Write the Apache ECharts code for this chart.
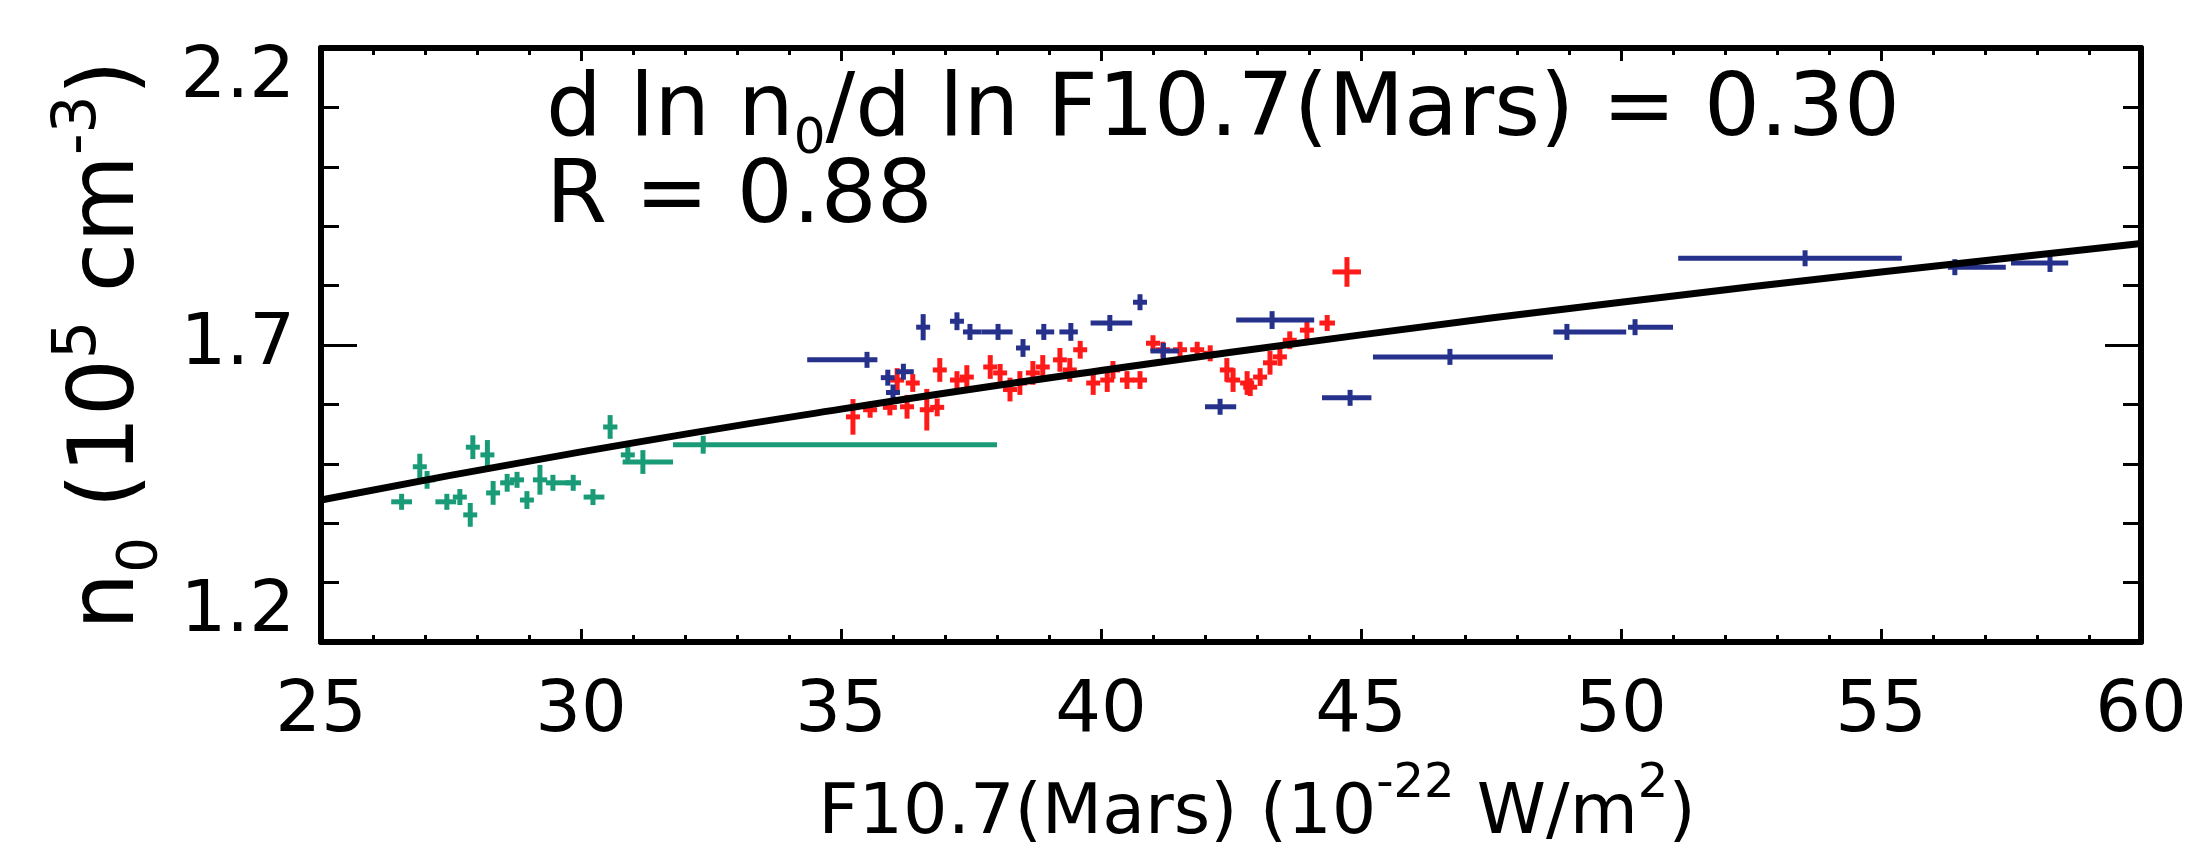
<!DOCTYPE html>
<html>
<head>
<meta charset="utf-8">
<script src="https://cdn.jsdelivr.net/npm/echarts@6/dist/echarts.min.js"></script>
<style>
  html, body { margin: 0; padding: 0; background: #fff; }
  #chart { width: 2186px; height: 857px; }
</style>
</head>
<body>
<div id="chart"></div>
<script>
// each point: [F10.7, n0, xLow, xHigh, yHalfErr]
const greenPoints = [
  [26.55, 1.436, 26.35, 26.75, 0.012],
  [26.9, 1.495, 26.85, 26.95, 0.022],
  [27.04, 1.473, 26.9, 27.2, 0.015],
  [27.42, 1.436, 27.2, 27.6, 0.01],
  [27.67, 1.444, 27.55, 27.8, 0.012],
  [27.87, 1.414, 27.8, 27.95, 0.02],
  [27.92, 1.528, 27.85, 28.0, 0.02],
  [28.2, 1.515, 28.1, 28.3, 0.025],
  [28.31, 1.451, 28.2, 28.4, 0.02],
  [28.58, 1.468, 28.45, 28.7, 0.015],
  [28.77, 1.473, 28.65, 28.9, 0.012],
  [28.96, 1.439, 28.85, 29.05, 0.015],
  [29.21, 1.473, 29.1, 29.35, 0.025],
  [29.46, 1.468, 29.35, 29.8, 0.01],
  [29.85, 1.468, 29.7, 30.0, 0.01],
  [30.23, 1.444, 30.05, 30.45, 0.01],
  [30.56, 1.562, 30.45, 30.7, 0.02],
  [30.9, 1.515, 30.8, 31.0, 0.01],
  [31.19, 1.503, 30.8, 31.77, 0.02],
  [32.35, 1.532, 31.77, 38.0, 0.015]
];
const redPoints = [
  [35.23, 1.579, 35.15, 35.3, 0.03],
  [35.56, 1.591, 35.45, 35.65, 0.01],
  [35.94, 1.595, 35.85, 36.05, 0.01],
  [36.08, 1.641, 36.0, 36.15, 0.02],
  [36.27, 1.596, 36.15, 36.4, 0.02],
  [36.38, 1.636, 36.3, 36.45, 0.015],
  [36.65, 1.591, 36.6, 36.7, 0.035],
  [36.85, 1.595, 36.75, 36.95, 0.015],
  [36.9, 1.658, 36.85, 36.95, 0.02],
  [37.23, 1.641, 37.1, 37.4, 0.015],
  [37.42, 1.646, 37.35, 37.5, 0.02],
  [37.87, 1.663, 37.8, 37.95, 0.02],
  [38.06, 1.653, 38.0, 38.15, 0.015],
  [38.25, 1.625, 38.2, 38.3, 0.02],
  [38.44, 1.636, 38.35, 38.5, 0.02],
  [38.69, 1.653, 38.6, 38.8, 0.02],
  [38.88, 1.663, 38.8, 38.95, 0.02],
  [39.21, 1.675, 39.15, 39.3, 0.02],
  [39.4, 1.658, 39.3, 39.5, 0.02],
  [39.6, 1.692, 39.5, 39.7, 0.015],
  [39.85, 1.636, 39.8, 39.9, 0.02],
  [40.12, 1.641, 40.05, 40.2, 0.02],
  [40.23, 1.658, 40.15, 40.3, 0.015],
  [40.5, 1.641, 40.45, 40.6, 0.015],
  [40.75, 1.641, 40.7, 40.85, 0.015],
  [41.0, 1.703, 40.9, 41.1, 0.01],
  [41.19, 1.692, 41.1, 41.3, 0.01],
  [41.52, 1.692, 41.45, 41.6, 0.01],
  [41.85, 1.692, 41.75, 41.95, 0.01],
  [42.1, 1.686, 42.0, 42.2, 0.01],
  [42.42, 1.658, 42.35, 42.5, 0.02],
  [42.54, 1.641, 42.45, 42.6, 0.02],
  [42.81, 1.636, 42.75, 42.9, 0.02],
  [42.87, 1.629, 42.8, 42.95, 0.015],
  [43.06, 1.646, 43.0, 43.15, 0.015],
  [43.25, 1.67, 43.2, 43.35, 0.02],
  [43.44, 1.68, 43.35, 43.5, 0.015],
  [43.63, 1.708, 43.55, 43.7, 0.015],
  [43.96, 1.725, 43.9, 44.05, 0.015],
  [44.35, 1.737, 44.2, 44.5, 0.01],
  [44.73, 1.823, 44.45, 45.0, 0.025]
];
const bluePoints = [
  [35.5, 1.675, 34.35, 35.7, 0.005],
  [35.9, 1.645, 35.8, 36.0, 0.01],
  [36.2, 1.655, 36.05, 36.4, 0.01],
  [36.0, 1.62, 35.9, 36.1, 0.01],
  [36.58, 1.73, 36.55, 36.6, 0.022],
  [37.23, 1.74, 37.1, 37.35, 0.015],
  [37.48, 1.722, 37.35, 37.7, 0.01],
  [38.02, 1.722, 37.7, 38.3, 0.01],
  [38.5, 1.695, 38.4, 38.6, 0.015],
  [38.9, 1.722, 38.75, 39.1, 0.01],
  [39.42, 1.722, 39.2, 39.55, 0.015],
  [40.17, 1.737, 39.8, 40.6, 0.01],
  [40.75, 1.772, 40.65, 40.85, 0.01],
  [41.2, 1.69, 40.95, 41.5, 0.005],
  [42.29, 1.596, 42.0, 42.6, 0.01],
  [43.29, 1.742, 42.6, 44.1, 0.015],
  [44.79, 1.611, 44.25, 45.2, 0.01],
  [46.71, 1.68, 45.23, 48.69, 0.008],
  [48.96, 1.722, 48.7, 50.1, 0.01],
  [50.27, 1.73, 50.2, 51.0, 0.01],
  [53.54, 1.846, 51.1, 55.4, 0.01],
  [56.42, 1.831, 56.3, 57.4, 0.01],
  [58.25, 1.838, 57.5, 58.6, 0.015]
];
// fit line  d ln n0 / d ln F10.7 = 0.30
const fitX = [25, 30, 35, 40, 45, 50, 55, 60];
const fitY = [1.439, 1.52, 1.592, 1.657, 1.717, 1.772, 1.823, 1.871];
const xTicks = [25, 60, 5];
const yTicks = [1.2, 2.2, 0.5];

(function () {
  var myChart = echarts.init(document.getElementById("chart"));
  const FONT = "'DejaVu Sans', sans-serif";

  const xRich = {
    t: { fontFamily: FONT, fontSize: 70, lineHeight: 107, color: "#000" },
    sup: { fontFamily: FONT, fontSize: 48, lineHeight: 54, verticalAlign: "top", color: "#000" },
  };
  const yRich = {
    t: { fontFamily: FONT, fontSize: 90, lineHeight: 120, color: "#000" },
    sup: { fontFamily: FONT, fontSize: 60, lineHeight: 66, verticalAlign: "top", color: "#000" },
    sub: { fontFamily: FONT, fontSize: 56, lineHeight: 60, verticalAlign: "bottom", color: "#000" },
  };
  const annRich = {
    t: { fontFamily: FONT, fontSize: 88, lineHeight: 107, color: "#000" },
    sub: { fontFamily: FONT, fontSize: 50, lineHeight: 50, verticalAlign: "bottom", color: "#000" },
  };

  const errBar = function (color) {
    return function (params, api) {
      const x = api.value(0);
      const y = api.value(1);
      const dy = api.value(4);
      const pLo = api.coord([api.value(2), y]);
      const pHi = api.coord([api.value(3), y]);
      const pc = api.coord([x, y]);
      const pTop = api.coord([x, y + dy]);
      const pBot = api.coord([x, y - dy]);
      const st = { stroke: color, lineWidth: 5 };
      return {
        type: "group",
        children: [
          { type: "line", shape: { x1: Math.min(pLo[0], pc[0] - 7), y1: pc[1], x2: Math.max(pHi[0], pc[0] + 7), y2: pc[1] }, style: st },
          { type: "line", shape: { x1: pc[0], y1: Math.min(pTop[1], pc[1] - 8), x2: pc[0], y2: Math.max(pBot[1], pc[1] + 8) }, style: st },
        ],
      };
    };
  };

  const tickStyle = { color: "#000", width: 3 };
  const xAxisBase = {
    type: "value",
    min: xTicks[0],
    max: xTicks[1],
    interval: xTicks[2],
    axisLine: { show: true, onZero: false, lineStyle: { color: "#000", width: 6 } },
    axisTick: { show: true, inside: true, length: 13, lineStyle: tickStyle },
    minorTick: { show: true, splitNumber: 5, length: 7, lineStyle: tickStyle },
    splitLine: { show: false },
    minorSplitLine: { show: false },
  };
  const yAxisBase = {
    type: "value",
    min: yTicks[0],
    max: yTicks[1],
    interval: yTicks[2],
    axisLine: { show: true, onZero: false, lineStyle: { color: "#000", width: 6 } },
    axisTick: { show: true, inside: true, length: 36, lineStyle: tickStyle },
    minorTick: { show: true, splitNumber: 5, length: 18, lineStyle: tickStyle },
    splitLine: { show: false },
    minorSplitLine: { show: false },
  };

  const option = {
    backgroundColor: "#fff",
    animation: false,
    grid: { left: 321, right: 45, top: 48, bottom: 215, outerBoundsMode: "none", containLabel: false },
    xAxis: [
      Object.assign({}, xAxisBase, {
        position: "bottom",
        axisLabel: { fontFamily: FONT, fontSize: 72, color: "#000", margin: 34 },
        name: "{t|F10.7(Mars) (10}{sup|-22}{t| W/m}{sup|2}{t|)}",
        nameLocation: "middle",
        nameGap: 119,
        nameTextStyle: { rich: xRich, padding: [0, 0, 0, 52] },
      }),
      Object.assign({}, xAxisBase, { position: "top", axisLabel: { show: false } }),
    ],
    yAxis: [
      Object.assign({}, yAxisBase, {
        position: "left",
        axisLabel: {
          fontFamily: FONT,
          fontSize: 72,
          lineHeight: 60,
          color: "#000",
          margin: 26,
          verticalAlignMinLabel: "bottom",
          verticalAlignMaxLabel: "top",
          formatter: (v) => v.toFixed(1),
        },
        name: "{t|n}{sub|0}{t| (10}{sup|5}{t| cm}{sup|-3}{t|)}",
        nameLocation: "middle",
        nameGap: 114,
        nameTextStyle: { rich: yRich },
      }),
      Object.assign({}, yAxisBase, { position: "right", axisLabel: { show: false } }),
    ],
    graphic: [
      {
        type: "text",
        left: 546,
        top: 68,
        style: { text: "{t|d ln n}{sub|0}{t|/d ln F10.7(Mars) = 0.30}", rich: annRich },
      },
      {
        type: "text",
        left: 546,
        top: 155,
        style: { text: "{t|R = 0.88}", rich: annRich },
      },
    ],
    series: [
      { type: "custom", name: "green", renderItem: errBar("#1a9b78"), encode: { x: 0, y: 1 }, data: greenPoints },
      { type: "custom", name: "red", renderItem: errBar("#ff1a1a"), encode: { x: 0, y: 1 }, data: redPoints },
      { type: "custom", name: "blue", renderItem: errBar("#26318c"), encode: { x: 0, y: 1 }, data: bluePoints },
      {
        type: "line",
        name: "fit",
        smooth: true,
        symbol: "none",
        lineStyle: { color: "#000", width: 7 },
        data: fitX.map((x, i) => [x, fitY[i]]),
        z: 5,
      },
    ],
  };

  myChart.setOption(option, true);

  window.onresize = function () {
    myChart.resize();
  };
})();
</script>
</body>
</html>
